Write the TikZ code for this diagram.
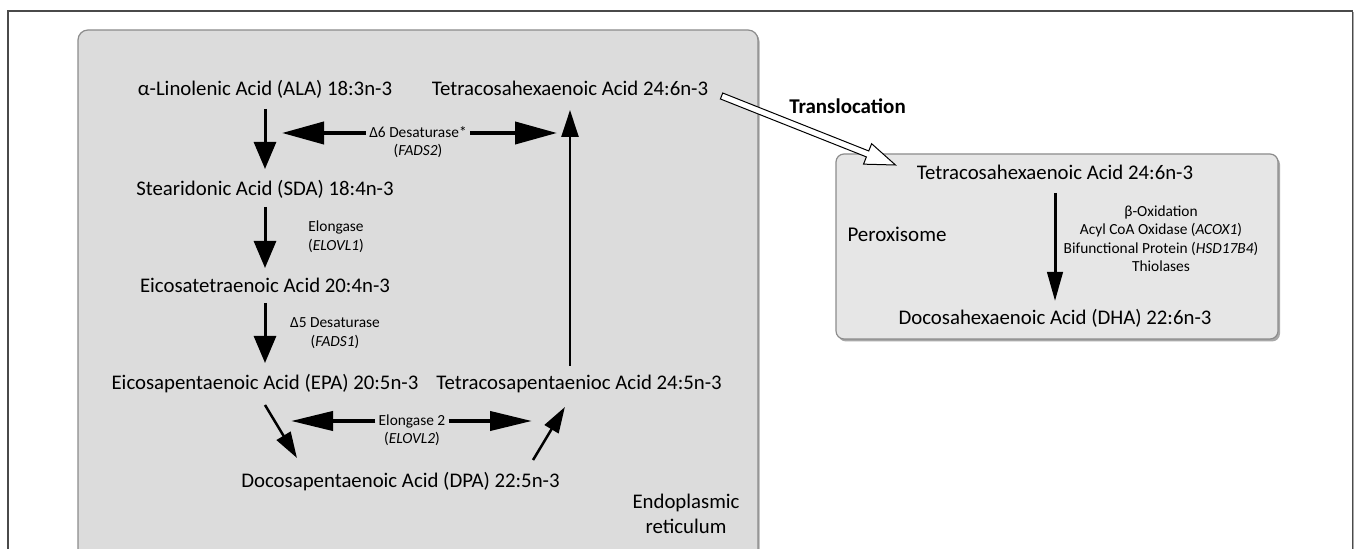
\documentclass[tikz,border=0pt]{standalone}
\usepackage{fontspec}
\setmainfont{Carlito}
\usetikzlibrary{arrows.meta,calc}
\definecolor{ergray}{HTML}{DCDCDC}
\definecolor{pxgray}{HTML}{E6E6E6}
\definecolor{boxline}{HTML}{8C8C8C}
\definecolor{shadowcol}{HTML}{A8A8A8}
\definecolor{framecol}{HTML}{4A4A4A}
\begin{document}
\begin{tikzpicture}[x=0.5pt,y=-0.5pt,
  acid/.style={font=\fontsize{10.4}{12.5}\selectfont, inner sep=0pt, text height=6.6pt, text depth=0pt},
  enzl/.style={font=\fontsize{7.7}{9.2}\selectfont, inner sep=0pt, inner xsep=1.5pt, text height=4.9pt, text depth=0pt},
  biglabel/.style={font=\fontsize{10.5}{12.5}\selectfont, inner sep=0pt, text height=6.6pt, text depth=0pt},
  downarr/.style={line width=1.5pt, -{Triangle[length=13.5pt,width=11pt]}},
  longarr/.style={line width=1.25pt, -{Triangle[length=13.5pt,width=8.5pt]}},
  diagarr/.style={line width=1.25pt, -{Triangle[length=13pt,width=8pt]}},
  bigarr/.style={line width=2pt, -{Triangle[length=21pt,width=11pt]}},
  bigarrb/.style={line width=2pt, -{Triangle[length=21pt,width=9.5pt]}},
  pxarr/.style={line width=1.5pt, -{Triangle[length=14.5pt,width=7.7pt]}}
]
\useasboundingbox (0,0) rectangle (1354,549);
\clip (0,0) rectangle (1354,549);
\fill[white] (0,0) rectangle (1354,549);
% outer frame
\draw[framecol, line width=0.6pt] (8,11) rectangle (1352.5,600);
\draw[shadowcol, line width=0.8pt] (1353.6,12) -- (1353.6,600);
% endoplasmic reticulum box
\fill[shadowcol, rounded corners=5pt] (79.5,31.5) rectangle (759.5,600);
\draw[boxline, fill=ergray, line width=0.6pt, rounded corners=5pt] (78,30) rectangle (758,600);
% peroxisome box
\fill[shadowcol, rounded corners=4pt] (838,156.5) rectangle (1280,341.5);
\draw[boxline, fill=pxgray, line width=0.6pt, rounded corners=4pt] (836,154) rectangle (1278,339);

% acids in ER
\node[acid] (ala) at (265,89) {α-Linolenic Acid (ALA) 18:3n-3};
\node[acid] (tetra) at (570,89) {Tetracosahexaenoic Acid 24:6n-3};
\node[acid] (sda) at (265,189) {Stearidonic Acid (SDA) 18:4n-3};
\node[acid] (eta) at (265,286) {Eicosatetraenoic Acid 20:4n-3};
\node[acid] (epa) at (265,383) {Eicosapentaenoic Acid (EPA) 20:5n-3};
\node[acid] (tpa) at (579,383) {Tetracosapentaenioc Acid 24:5n-3};
\node[acid] (dpa) at (400.5,481) {Docosapentaenoic Acid (DPA) 22:5n-3};
\node[acid] (endo1) at (686,502) {Endoplasmic};
\node[acid] (endo2) at (686,527) {reticulum};

% enzyme labels
\node[enzl] (d6) at (418,133) {Δ6 Desaturase*};
\node[enzl] (fads2) at (418,151) {(\textit{FADS2})};
\node[enzl] (elo1) at (336,227) {Elongase};
\node[enzl] (elovl1) at (336,246) {(\textit{ELOVL1})};
\node[enzl] (d5) at (335,323) {Δ5 Desaturase};
\node[enzl] (fads1) at (335,342) {(\textit{FADS1})};
\node[enzl] (elo2) at (412,421) {Elongase 2};
\node[enzl] (elovl2) at (412,439) {(\textit{ELOVL2})};

\coordinate (d6l) at (282,133);
\coordinate (d6r) at (557,133);
\coordinate (e2l) at (291,421);
\coordinate (e2r) at (532,421);

% ER arrows
\draw[downarr, shorten <=6.5pt, shorten >=6.5pt] (ala.south) -- (sda.north);
\draw[downarr, shorten <=5.5pt, shorten >=5.5pt] (sda.south) -- (eta.north);
\draw[downarr, shorten <=5pt, shorten >=6.5pt] (eta.south) -- (epa.north);
\draw[longarr, shorten <=5pt, shorten >=7pt] (tetra.south |- tpa.north) -- (tetra.south);
\draw[bigarr] (d6.west) -- (d6l);
\draw[bigarr] (d6.east) -- (d6r);
\draw[bigarrb] (elo2.west) -- (e2l);
\draw[bigarrb] (elo2.east) -- (e2r);
\draw[diagarr] ($(epa.south)+(0,15)$) -- ($(dpa.north west)+(56,-16)$);
\draw[diagarr] ($(dpa.north east)+(-27,-14)$) -- ($(tpa.south west)+(129,17)$);

% peroxisome
\node[acid] (ptetra) at (1055,173) {Tetracosahexaenoic Acid 24:6n-3};
\node[acid] (dha) at (1055,318) {Docosahexaenoic Acid (DHA) 22:6n-3};
\node[biglabel] (perox) at (897,235) {Peroxisome};
\node[enzl] (box1) at (1161,212) {β-Oxidation};
\node[enzl] (box2) at (1161,230) {Acyl CoA Oxidase (\textit{ACOX1})};
\node[enzl] (box3) at (1161,249) {Bifunctional Protein (\textit{HSD17B4})};
\node[enzl] (box4) at (1161,267) {Thiolases};
\draw[pxarr, shorten <=6.5pt, shorten >=5pt] (ptetra.south) -- (dha.north);

% translocation
\node[biglabel, font=\fontsize{10.5}{12.5}\selectfont\bfseries] (transl) at (847.5,107) {Translocation};
\coordinate (hs) at ($(tetra.east)+(13,7)$);
\coordinate (he) at ($(ptetra.north west)+(-21,-1)$);
\coordinate (hb) at ($(he)!15pt!(hs)$);
\filldraw[fill=white, draw=black, line width=0.5pt, line join=miter]
  ($(hs)!1.6pt!90:(he)$) -- ($(hb)!1.6pt!-90:(hs)$) -- ($(hb)!5.5pt!-90:(hs)$) -- (he)
  -- ($(hb)!5.5pt!90:(hs)$) -- ($(hb)!1.6pt!90:(hs)$) -- ($(hs)!1.6pt!-90:(he)$) -- cycle;
\end{tikzpicture}
\end{document}
